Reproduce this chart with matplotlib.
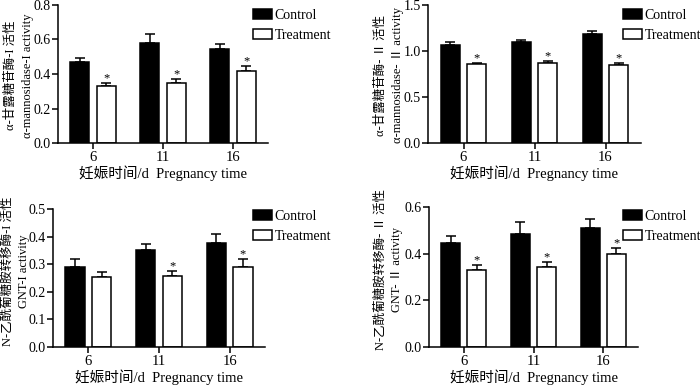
import numpy as np
import matplotlib
matplotlib.use("Agg")
import matplotlib.pyplot as plt

plt.rcParams['font.family'] = ['Liberation Serif', 'Noto Sans CJK SC', 'DejaVu Sans']
plt.rcParams['font.size'] = 10
plt.rcParams['axes.linewidth'] = 1.1

days = ['6', '11', '16']

# alpha-mannosidase-I
man1_ctrl = [0.468, 0.582, 0.546]
man1_ctrl_err = [0.027, 0.048, 0.030]
man1_treat = [0.328, 0.345, 0.420]
man1_treat_err = [0.021, 0.027, 0.025]
man1_sig = [True, True, True]

# alpha-mannosidase-II
man2_ctrl = [1.064, 1.097, 1.190]
man2_ctrl_err = [0.036, 0.022, 0.023]
man2_treat = [0.854, 0.865, 0.843]
man2_treat_err = [0.018, 0.025, 0.032]
man2_sig = [True, True, True]

# GNT-I
gnt1_ctrl = [0.290, 0.352, 0.376]
gnt1_ctrl_err = [0.028, 0.023, 0.032]
gnt1_treat = [0.252, 0.257, 0.289]
gnt1_treat_err = [0.021, 0.020, 0.030]
gnt1_sig = [False, True, True]

# GNT-II
gnt2_ctrl = [0.445, 0.486, 0.509]
gnt2_ctrl_err = [0.030, 0.049, 0.038]
gnt2_treat = [0.331, 0.341, 0.399]
gnt2_treat_err = [0.019, 0.022, 0.027]
gnt2_sig = [True, True, True]

W, H = 700, 387
fig = plt.figure(figsize=(7, 3.87), dpi=100)


def px_axes(left, right, top, bottom):
    return fig.add_axes([left / W, 1 - bottom / H, (right - left) / W, (bottom - top) / H])


def panel(ax, ctrl, ctrl_err, treat, treat_err, sig, ymax, ystep, ylabel, label_xy, legend_xy):
    x = np.arange(len(days))
    off, bw = 0.187, 0.273
    b1 = ax.bar(x - off, ctrl, bw, color='black', edgecolor='black', linewidth=1.1, label='Control', zorder=2)
    b2 = ax.bar(x + off, treat, bw, color='white', edgecolor='black', linewidth=1.1, label='Treatment', zorder=2)
    ax.errorbar(x - off, ctrl, yerr=[np.zeros(len(x)), ctrl_err], fmt='none', ecolor='black',
                elinewidth=1.1, capsize=3.5, capthick=1.1, zorder=1)
    ax.errorbar(x + off, treat, yerr=[np.zeros(len(x)), treat_err], fmt='none', ecolor='black',
                elinewidth=1.1, capsize=3.5, capthick=1.1, zorder=1)
    for i in range(len(x)):
        if sig[i]:
            ax.annotate('*', (x[i] + off, treat[i] + treat_err[i]), xytext=(0, -1),
                        textcoords='offset points', ha='center', va='bottom', fontsize=9)
    ax.set_xlim(-0.5, 2.5)
    ax.set_ylim(0, ymax)
    ax.set_yticks(np.arange(0, ymax + 1e-9, ystep))
    ax.yaxis.set_major_formatter(matplotlib.ticker.FormatStrFormatter('%.1f'))
    ax.set_xticks(x)
    ax.set_xticklabels(days)
    ax.tick_params(direction='out', length=4, width=1.1, labelsize=10.5, pad=2)
    ax.tick_params(axis='y', pad=1, labelsize=10)
    ax.spines['top'].set_visible(False)
    ax.spines['right'].set_visible(False)
    ax.set_xlabel('妊娠时间/d  Pregnancy time', fontsize=10.5, labelpad=1)
    ax.set_ylabel(ylabel, fontsize=9, linespacing=1.5)
    ax.yaxis.set_label_coords(*label_xy)
    ax.legend(handles=[b1, b2], loc='upper left', frameon=False, fontsize=10,
              bbox_to_anchor=(legend_xy[0] / W, 1 - legend_xy[1] / H), bbox_transform=fig.transFigure,
              borderpad=0, borderaxespad=0, handlelength=1.35, handleheight=0.65,
              handletextpad=0.2, labelspacing=0.5)


ax1 = px_axes(58, 268, 5, 143)
panel(ax1, man1_ctrl, man1_ctrl_err, man1_treat, man1_treat_err, man1_sig, 0.8, 0.2,
      'α-甘露糖苷酶-I 活性\nα-mannosidase-I activity', (-0.115, 0.49), (253, 9))

ax2 = px_axes(428, 641, 5, 143)
panel(ax2, man2_ctrl, man2_ctrl_err, man2_treat, man2_treat_err, man2_sig, 1.5, 0.5,
      'α-甘露糖苷酶- Ⅱ 活性\nα-mannosidase- Ⅱ activity', (-0.115, 0.49), (623, 9))

ax3 = px_axes(53, 265, 209, 347)
panel(ax3, gnt1_ctrl, gnt1_ctrl_err, gnt1_treat, gnt1_treat_err, gnt1_sig, 0.5, 0.1,
      'N-乙酰葡糖胺转移酶-I 活性\nGNT-I activity', (-0.108, 0.55), (253, 210))

ax4 = px_axes(429, 638, 207, 347)
panel(ax4, gnt2_ctrl, gnt2_ctrl_err, gnt2_treat, gnt2_treat_err, gnt2_sig, 0.6, 0.2,
      'N-乙酰葡糖胺转移酶- Ⅱ 活性\nGNT- Ⅱ activity', (-0.125, 0.55), (623, 210))

fig.savefig('out.png', dpi=100)
